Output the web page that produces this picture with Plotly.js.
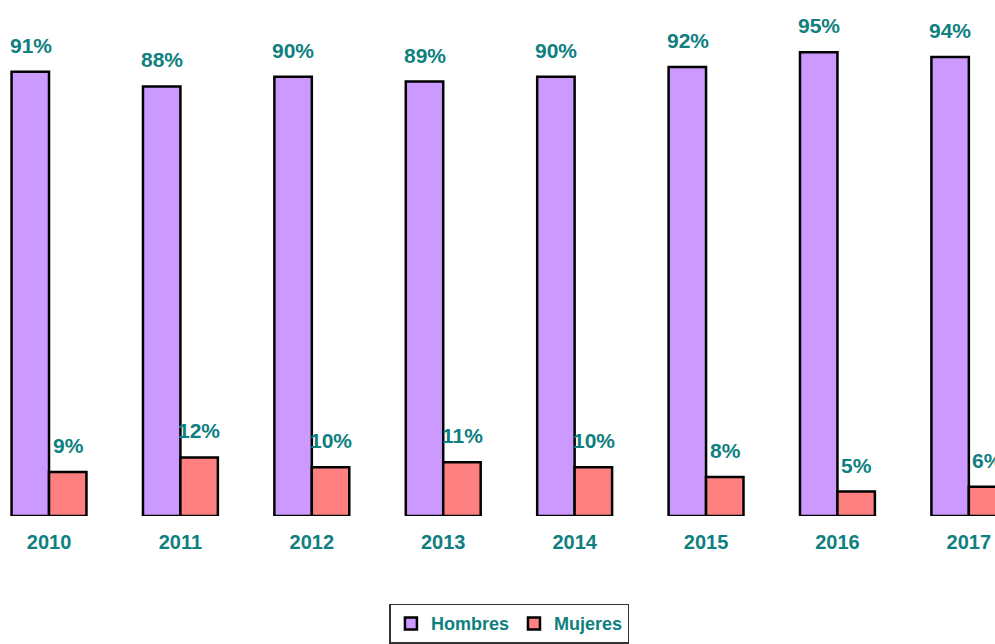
<!DOCTYPE html>
<html>
<head>
<meta charset="utf-8">
<script src="https://cdn.plot.ly/plotly-3.0.1.min.js"></script>
<style>html,body{margin:0;padding:0;background:#fff;}#chart{width:995px;height:644px;}</style>
</head>
<body>
<div id="chart"></div>
<script>
const years = ['2010','2011','2012','2013','2014','2015','2016','2017'];
const hombres = [91, 88, 90, 89, 90, 92, 95, 94];
const mujeres = [9, 12, 10, 11, 10, 8, 5, 6];
const seriesNames = ['Hombres', 'Mujeres'];

const TEAL = '#0f7f7f';
const FONT = '"Liberation Sans", Arial, sans-serif';

const traces = [
  {type:'bar', name:seriesNames[0], x:years, y:hombres,
   marker:{color:'#CC99FF', line:{color:'#000', width:2.5}}},
  {type:'bar', name:seriesNames[1], x:years, y:mujeres,
   marker:{color:'#FF8080', line:{color:'#000', width:2.5}}}
];

const annotations = [];
[hombres, mujeres].forEach((arr, si) => {
  arr.forEach((v, i) => {
    annotations.push({
      x: i, y: v, xref:'x', yref:'y',
      text: v + '%', showarrow:false,
      xshift: si === 0 ? -18.5 : 19, yshift: 13,
      yanchor:'bottom', xanchor:'center',
      font:{family:FONT, size:21, color:TEAL, weight:'bold'}
    });
  });
});

const layout = {
  width:995, height:644,
  margin:{l:0, r:0, t:0, b:128, pad:0},
  paper_bgcolor:'#fff', plot_bgcolor:'#fff',
  barmode:'group', bargap:0.43, bargroupgap:0,
  showlegend:true,
  legend:{orientation:'h', x:0.512, xanchor:'center', y:-0.17, yanchor:'top',
    bordercolor:'#333', borderwidth:1.5, bgcolor:'#fff',
    font:{family:FONT, size:18, color:TEAL, weight:'bold'},
    itemwidth:30, traceorder:'normal'},
  xaxis:{type:'category', range:[-0.373, 7.199], showgrid:false, zeroline:false,
    showline:false, ticks:'outside', ticklen:8, tickcolor:'rgba(0,0,0,0)',
    tickfont:{family:FONT, size:20, color:TEAL, weight:'bold'}},
  yaxis:{range:[0, 105.7], showgrid:false, zeroline:false, showline:false,
    showticklabels:false, ticks:''},
  annotations: annotations
};

Plotly.newPlot('chart', traces, layout, {displayModeBar:false, staticPlot:true});
</script>
</body>
</html>
